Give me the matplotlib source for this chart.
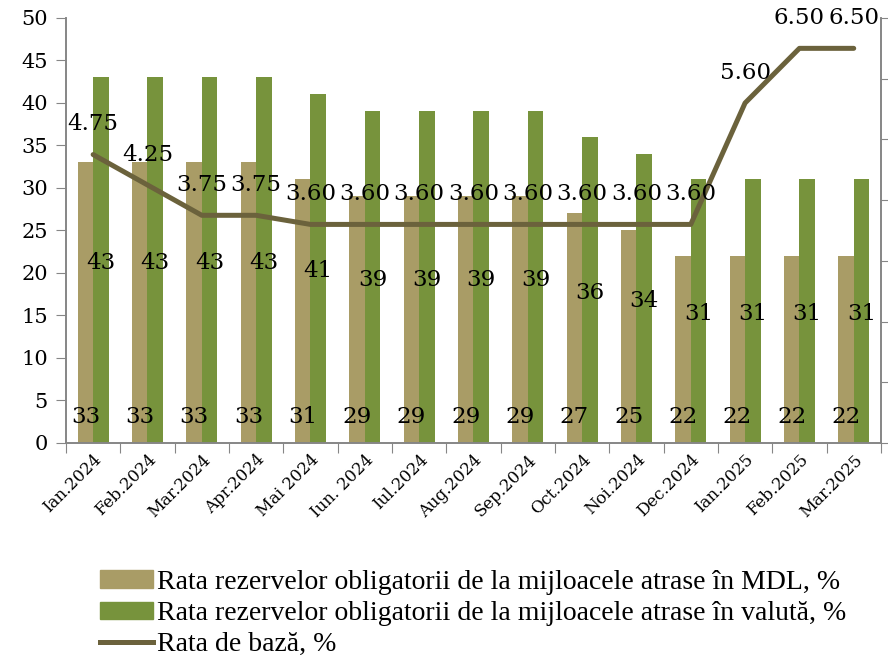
import matplotlib
matplotlib.use("Agg")
import matplotlib.pyplot as plt
from matplotlib.patches import Patch
from matplotlib.lines import Line2D
import numpy as np

months = ["Ian.2024", "Feb.2024", "Mar.2024", "Apr.2024", "Mai 2024", "Iun. 2024",
          "Iul.2024", "Aug.2024", "Sep.2024", "Oct.2024", "Noi.2024", "Dec.2024",
          "Ian.2025", "Feb.2025", "Mar.2025"]
rr_mdl = [33, 33, 33, 33, 31, 29, 29, 29, 29, 27, 25, 22, 22, 22, 22]
rr_valuta = [43, 43, 43, 43, 41, 39, 39, 39, 39, 36, 34, 31, 31, 31, 31]
rata_baza = [4.75, 4.25, 3.75, 3.75, 3.60, 3.60, 3.60, 3.60, 3.60, 3.60, 3.60, 3.60, 5.60, 6.50, 6.50]
legend_labels = ["Rata rezervelor obligatorii de la mijloacele atrase în MDL, %",
                 "Rata rezervelor obligatorii de la mijloacele atrase în valută, %",
                 "Rata de bază, %"]

c_mdl = "#A99C66"
c_val = "#77933C"
c_line = "#6B623C"
c_axis = "#868686"

plt.rcParams["font.family"] = ["DejaVu Serif"]

fig = plt.figure(figsize=(8.88, 6.59), dpi=100)
ax = fig.add_axes([0.0743, 0.3278, 0.9177, 0.6449])
ax2 = ax.twinx()

x = np.arange(len(months))
w = 0.285
b1 = ax.bar(x - w / 2, rr_mdl, w, color=c_mdl, zorder=2)
b2 = ax.bar(x + w / 2, rr_valuta, w, color=c_val, zorder=2)

# etichete: MDL la baza barei, valuta la mijloc
for rect, v in zip(b1, rr_mdl):
    ax.text(rect.get_x() + rect.get_width() / 2, 3.0, str(v),
            ha="center", va="center", fontsize=16.5, zorder=5)
for rect, v in zip(b2, rr_valuta):
    ax.text(rect.get_x() + rect.get_width() / 2, v / 2 - 0.3, str(v),
            ha="center", va="center", fontsize=16.5, zorder=5)

ax2.plot(x, rata_baza, color=c_line, lw=3.6, zorder=4, solid_capstyle="round")
for xi, v in zip(x, rata_baza):
    ax2.text(xi, v + 0.5, f"{v:.2f}", ha="center", va="center", fontsize=16.5, zorder=6)

ax.set_xlim(-0.5, len(months) - 0.5)
ax.set_ylim(0, 50)
ax.set_yticks(range(0, 51, 5))
ax2.set_ylim(0, 7)
ax2.set_yticks(range(0, 8))
ax2.set_yticklabels([])

ax.set_xticks(np.arange(-0.5, len(months), 1.0))
ax.set_xticklabels([])
ax.set_xticks(x, minor=True)
ax.set_xticklabels(months, minor=True, rotation=45, ha="right", va="top",
                   rotation_mode="anchor", fontsize=12)
ax.tick_params(axis="x", which="minor", length=0, pad=6)
ax.tick_params(axis="x", which="major", length=7, color=c_axis, direction="out")
ax.tick_params(axis="y", labelsize=15, length=7, color=c_axis, pad=6)
ax2.tick_params(axis="y", length=7, color=c_axis)

for a in (ax, ax2):
    a.spines["top"].set_visible(False)
    for s in ("left", "bottom", "right"):
        a.spines[s].set_color(c_axis)
        a.spines[s].set_linewidth(1.2)

handles = [Patch(color=c_mdl), Patch(color=c_val), Line2D([0], [0], color=c_line, lw=3.6)]
fig.legend(handles, legend_labels, loc="upper left", bbox_to_anchor=(0.113, 0.135),
           frameon=False, prop={"family": "Liberation Serif", "size": 20},
           handlelength=1.9, handleheight=0.6, handletextpad=0.15, labelspacing=0.22,
           borderpad=0, borderaxespad=0)

fig.savefig("out.png", dpi=100)
